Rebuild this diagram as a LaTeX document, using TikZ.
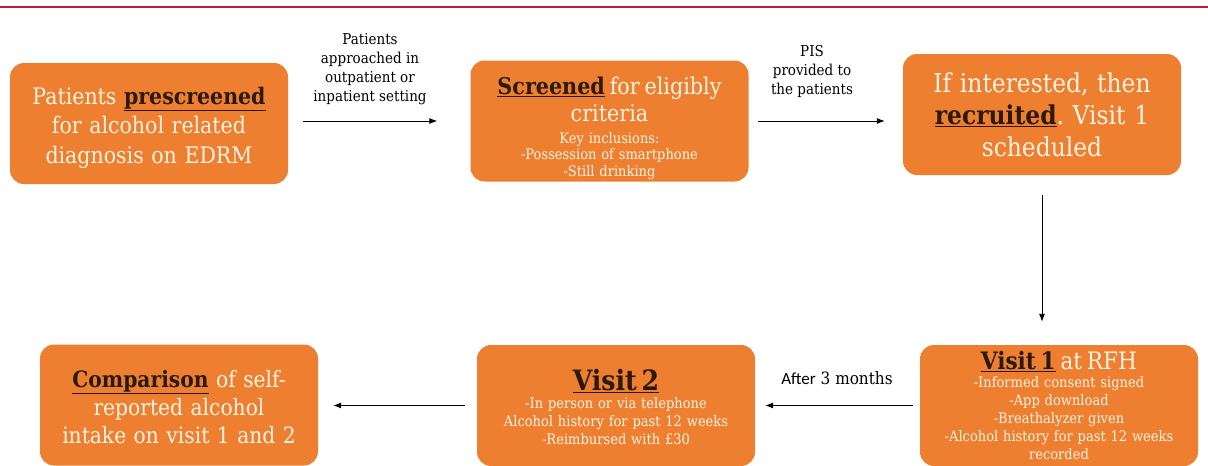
\documentclass[tikz,border=0pt]{standalone}
\usepackage{fontspec}
\setmainfont[FakeStretch=0.9]{DejaVu Serif}
\newfontfamily\afterfont{Carlito}
\usetikzlibrary{arrows.meta}
\frenchspacing
\definecolor{boxorange}{HTML}{EE7F31}
\definecolor{boxtext}{HTML}{FFF4E4}
\definecolor{keyword}{HTML}{2A1A0C}
\definecolor{topline}{HTML}{C8173A}
\newcommand{\kw}[1]{\textcolor{keyword}{\underline{\textbf{#1}}}}
\newcommand{\bigtext}{\fontsize{23}{27}\selectfont}
\newcommand{\smalltext}{\fontsize{14.5}{18}\selectfont}
\newcommand{\lift}[1]{\rule{0pt}{#1}}
\tikzset{
  stage/.style={rectangle,rounded corners=14pt,fill=boxorange,text=boxtext,
    minimum width=278pt,minimum height=121pt,text width=272pt,align=center,inner sep=0pt},
  note/.style={font=\fontsize{15}{19}\selectfont,align=center},
  flow/.style={-{Latex[length=8pt,width=6pt]},line width=0.9pt},
}
\begin{document}
\begin{tikzpicture}[x=1pt,y=-1pt]
\useasboundingbox (0,0) rectangle (1208,466);
\draw[topline,line width=1.6pt](0,7)--(1208,7);
%boxes
\node[stage,font=\fontsize{22.8}{29.5}\selectfont](b1)at(149,123.5){\lift{26pt}Patients \kw{prescreened}\\for alcohol related\\diagnosis on EDRM\par};
\node[stage,font=\fontsize{14.5}{16.5}\selectfont](b2)at(609.5,121){{\bigtext\lift{32pt}\kw{Screened} for eligibly\\criteria\par}\vspace{5pt}Key inclusions:\\-Possession of smartphone\\-Still drinking\par};
\node[stage,font=\fontsize{26}{32}\selectfont](b3)at(1042,114.5){If interested, then\\\kw{recruited}. Visit 1\\scheduled\par};
\node[stage,font=\smalltext](b4)at(1059,405.5){{\fontsize{24}{26}\selectfont \kw{Visit 1} at RFH\par}-Informed consent signed\\-App download\\-Breathalyzer given\\-Alcohol history for past 12 weeks\\recorded\par};
\node[stage,font=\smalltext](b5)at(616,405.5){{\fontsize{28}{31}\selectfont\lift{25pt}\kw{Visit 2}\par}-In person or via telephone\\Alcohol history for past 12 weeks\\-Reimbursed with £30\par};
\node[stage,font=\fontsize{22.5}{28}\selectfont](b6)at(179,405){\lift{21pt}\kw{Comparison} of self-\\reported alcohol\\intake on visit 1 and 2\par};
%arrows
\draw[flow,shorten <=15pt,shorten >=33pt](b2.west-|b1.east)--(b2.west);
\draw[flow,shorten <=9pt,shorten >=18pt](b2.east)--(b2.east-|b3.west);
\draw[flow,shorten <=20pt,shorten >=23pt](b3.south)--(b3.south|-b4.north);
\draw[flow,shorten <=7pt,shorten >=10pt](b4.west)--(b4.west-|b5.east);
\draw[flow,shorten <=12pt,shorten >=15pt](b5.west)--(b5.west-|b6.east);
%labels
\node[note](l1)at(370,69){Patients\\approached in\\outpatient or\\inpatient setting};
\node[note](l2)at(812,71){PIS\\provided to\\the patients};
\node[note,font=\fontsize{17}{19}\selectfont](l3)at(837,378){{\afterfont After} 3 months};
\end{tikzpicture}
\end{document}
